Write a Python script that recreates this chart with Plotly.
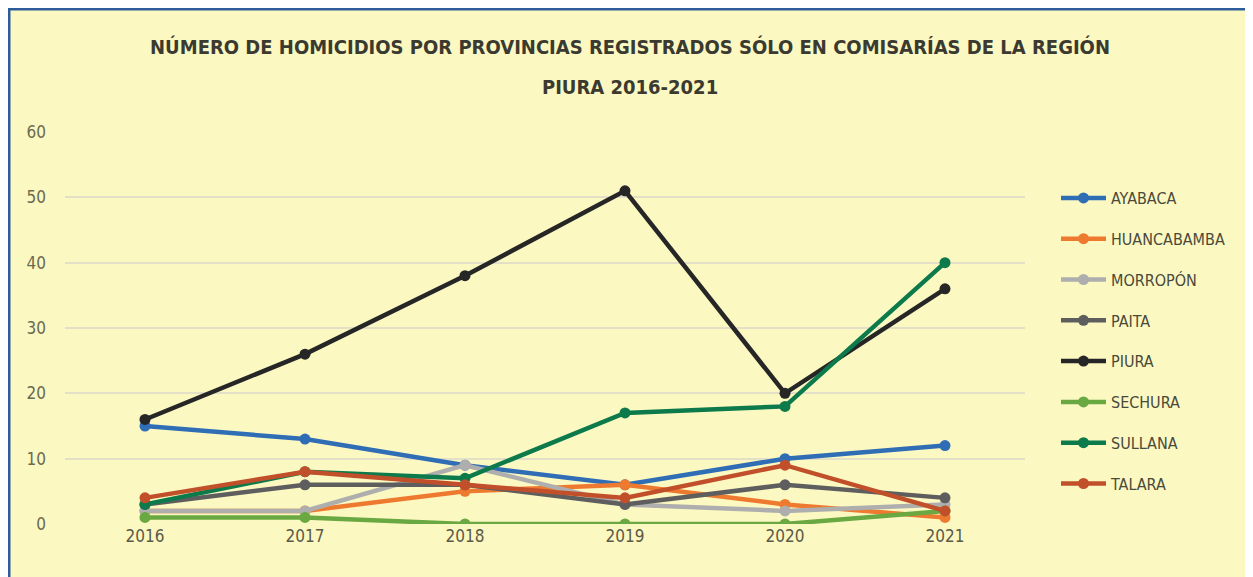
import plotly.graph_objects as go

years = [2016, 2017, 2018, 2019, 2020, 2021]
year_labels = ["2016", "2017", "2018", "2019", "2020", "2021"]

provinces = ["AYABACA", "HUANCABAMBA", "MORROPÓN", "PAITA", "PIURA", "SECHURA", "SULLANA", "TALARA"]
ayabaca = [15, 13, 9, 6, 10, 12]
huancabamba = [2, 2, 5, 6, 3, 1]
morropon = [2, 2, 9, 3, 2, 3]
paita = [3, 6, 6, 3, 6, 4]
piura = [16, 26, 38, 51, 20, 36]
sechura = [1, 1, 0, 0, 0, 2]
sullana = [3, 8, 7, 17, 18, 40]
talara = [4, 8, 6, 4, 9, 2]
series = [ayabaca, huancabamba, morropon, paita, piura, sechura, sullana, talara]
colors = ["#2F6DB5", "#EE7A30", "#AEAEAE", "#5E5E5E", "#262626", "#6AA842", "#0C7A4A", "#C1502A"]

title_line1 = "NÚMERO DE HOMICIDIOS POR PROVINCIAS REGISTRADOS SÓLO EN COMISARÍAS DE LA REGIÓN"
title_line2 = "PIURA 2016-2021"

font_fam = "DejaVu Sans Condensed, Liberation Sans Narrow, sans-serif"
bg = "#FCF8C2"

W, H = 1245, 569
L, T, R, B = 57, 124, 228, 53
pw, ph = W - L - R, H - T - B

fig = go.Figure()
for name, vals, col in zip(provinces, series, colors):
    fig.add_trace(go.Scatter(
        x=years, y=vals, name=name, mode="lines+markers",
        line=dict(color=col, width=4.5),
        marker=dict(color=col, size=11),
        legendgroup=name,
    ))

fig.update_layout(
    width=W, height=H,
    paper_bgcolor=bg, plot_bgcolor=bg,
    margin=dict(l=L, r=R, t=T, b=B),
    title=dict(text=title_line1, x=(630 - 8) / W, xanchor="center", y=1 - 39 / H, yanchor="middle",
               font=dict(family=font_fam, size=20, color="#3A3A30", weight="bold")),
    annotations=[dict(text=title_line2, xref="paper", yref="paper",
                      x=(630 - 8 - L) / pw, y=1 + (T - 79) / ph, xanchor="center", yanchor="middle",
                      showarrow=False,
                      font=dict(family=font_fam, size=20, color="#3A3A30", weight="bold"))],
    showlegend=True,
    legend=dict(x=(1048 - L) / pw, y=1 - (173 - T) / ph, xanchor="left", yanchor="top",
                bgcolor="rgba(0,0,0,0)", tracegroupgap=17,
                font=dict(family=font_fam, size=16, color="#4A4A3A"),
                itemwidth=45),
    xaxis=dict(tickmode="array", tickvals=years, ticktext=year_labels,
               range=[2015.5, 2021.5], showgrid=False, zeroline=False, showline=False,
               tickfont=dict(family=font_fam, size=17, color="#5A5A48"), ticks=""),
    yaxis=dict(range=[0, 60], dtick=10, showgrid=True, gridcolor="#E4E0C8", gridwidth=1.5,
               zeroline=False, showline=False,
               tickfont=dict(family=font_fam, size=17, color="#6A6A50"), ticks="",
               ticklabelstandoff=18),
    shapes=[dict(type="rect", xref="paper", yref="paper",
                 x0=(1 - L) / pw, x1=(1241 - L) / pw, y0=-(B + 20) / ph, y1=1 + (T - 1) / ph,
                 line=dict(color="#2E5C9A", width=3), fillcolor="rgba(0,0,0,0)", layer="below")],
)

fig.write_html("out.html")
